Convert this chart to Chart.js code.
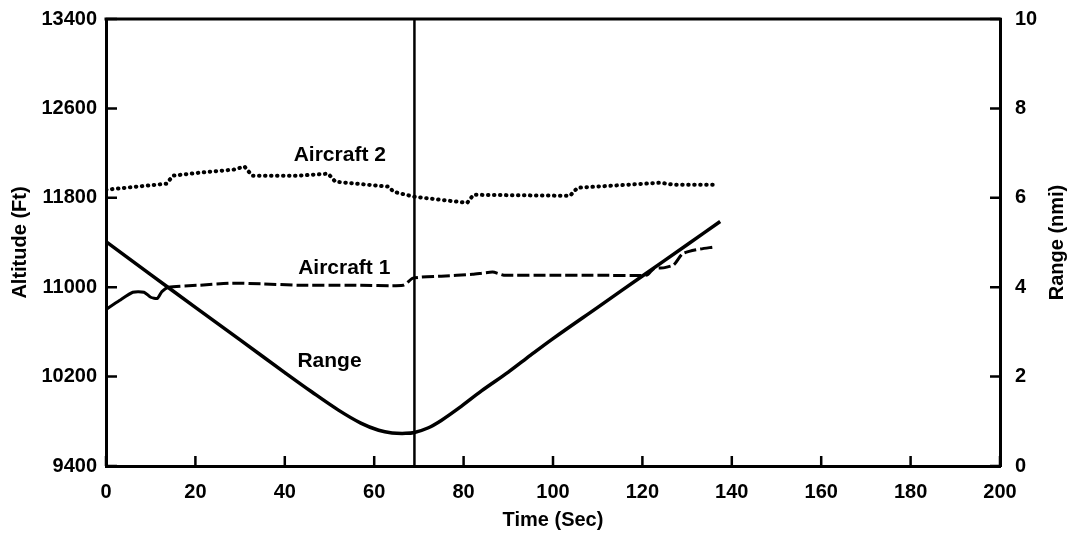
<!DOCTYPE html>
<html>
<head>
<meta charset="utf-8">
<script src="https://cdn.jsdelivr.net/npm/chart.js@4/dist/chart.umd.min.js"></script>
<style>
  html, body { margin: 0; padding: 0; background: #fff; }
  #wrap { width: 1072px; height: 535px; }
</style>
</head>
<body>
<div id="wrap"><canvas id="altChart" width="1072" height="535"></canvas></div>
<script>
// values
const a1Time = [0, 3, 6, 8.5, 10, 11.5, 12.5, 14, 21, 28, 35, 43, 55, 66.5, 68.7, 75, 82, 86.5, 89, 100, 110, 121, 122.5, 125, 127, 129, 132, 136];
const a1Alt = [10800, 10880, 10955, 10955, 10910, 10900, 10960, 11000, 11018, 11036, 11030, 11018, 11018, 11018, 11081, 11099, 11115, 11135, 11108, 11108, 11108, 11108, 11165, 11175, 11200, 11300, 11335, 11360];

const a2Time = [0, 13.5, 15, 21, 28.5, 31, 32.7, 43, 49.7, 51.3, 63.3, 64.3, 69, 80.8, 82.2, 103.8, 105.5, 113, 124, 127, 136];
const a2Alt = [11872, 11926, 11998, 12025, 12052, 12079, 11998, 11998, 12016, 11944, 11899, 11854, 11809, 11755, 11827, 11818, 11890, 11908, 11935, 11917, 11917];

const rangeTime = [0, 10, 20, 30, 40, 46, 52, 57, 61, 64, 67, 69, 72, 75, 79, 84, 90, 95, 100, 110, 120, 130, 137.4];
const rangeNmi = [5.02, 4.28, 3.55, 2.82, 2.09, 1.66, 1.25, 0.96, 0.8, 0.74, 0.73, 0.75, 0.85, 1.02, 1.3, 1.68, 2.1, 2.48, 2.85, 3.55, 4.25, 4.95, 5.47];

const markerTime = 69;

const altTicks = [9400, 10200, 11000, 11800, 12600, 13400];
const rangeTicks = [0, 2, 4, 6, 8, 10];
const timeTicks = [0, 20, 40, 60, 80, 100, 120, 140, 160, 180, 200];

// curve labels inside the plot
const labelText = ['Aircraft 2', 'Aircraft 1', 'Range'];
const labelTime = [52.3, 53.3, 50];
const labelValue = [12178, 11171, 2.34];
const labelAxis = ['y', 'y', 'y2'];

const toPoints = (xs, ys) => xs.map((x, i) => ({ x: x, y: ys[i] }));

const FONT = '"Liberation Sans", Arial, sans-serif';

// frame on top, small inward tick marks, curve labels, right title
const frameTicks = {
  id: 'frameTicks',
  afterDatasetsDraw(chart) {
    const { ctx, chartArea: a, scales } = chart;
    ctx.save();
    ctx.strokeStyle = '#000';
    ctx.lineWidth = 3;
    ctx.beginPath();
    ctx.moveTo(a.left - 1.5, a.top);
    ctx.lineTo(a.right + 1.5, a.top);
    ctx.stroke();

    ctx.lineWidth = 2.5;
    ctx.beginPath();
    timeTicks.forEach(v => {
      const px = scales.x.getPixelForValue(v);
      ctx.moveTo(px, a.bottom);
      ctx.lineTo(px, a.bottom - 10);
    });
    altTicks.forEach(v => {
      const py = scales.y.getPixelForValue(v);
      ctx.moveTo(a.left, py);
      ctx.lineTo(a.left + 11, py);
    });
    rangeTicks.forEach(v => {
      const py = scales.y2.getPixelForValue(v);
      ctx.moveTo(a.right, py);
      ctx.lineTo(a.right - 10, py);
    });
    ctx.stroke();

    ctx.fillStyle = '#000';
    ctx.font = 'bold 21px ' + FONT;
    ctx.textAlign = 'center';
    ctx.textBaseline = 'middle';
    labelText.forEach((t, i) => {
      const px = scales.x.getPixelForValue(labelTime[i]);
      const py = scales[labelAxis[i]].getPixelForValue(labelValue[i]);
      ctx.fillText(t, px, py);
    });

    // right axis title reads bottom-to-top like the left one
    ctx.font = 'bold 20px ' + FONT;
    ctx.translate(scales.y2.right - 15, (a.top + a.bottom) / 2);
    ctx.rotate(-Math.PI / 2);
    ctx.fillText('Range (nmi)', 0, 0);
    ctx.restore();
  }
};

const tickFont = { family: FONT, size: 20, weight: 'bold' };
const titleFont = { family: FONT, size: 20, weight: 'bold' };
const plain = v => String(v);

const ctx = document.getElementById('altChart').getContext('2d');
new Chart(ctx, {
  type: 'line',
  data: {
    datasets: [
      {
        label: 'Range',
        data: toPoints(rangeTime, rangeNmi),
        yAxisID: 'y2',
        borderColor: '#000',
        borderWidth: 3.5,
        pointRadius: 0,
        tension: 0.35
      },
      {
        label: 'Aircraft 1',
        data: toPoints(a1Time, a1Alt),
        yAxisID: 'y',
        borderColor: '#000',
        borderWidth: 3,
        borderDash: [12, 4],
        pointRadius: 0,
        tension: 0.2,
        segment: {
          borderDash: c => (c.p1.parsed.x <= 14 ? [] : undefined)
        }
      },
      {
        label: 'Aircraft 2',
        data: toPoints(a2Time, a2Alt),
        yAxisID: 'y',
        borderColor: '#000',
        borderWidth: 4,
        borderDash: [0.5, 5.5],
        borderCapStyle: 'round',
        pointRadius: 0,
        tension: 0
      },
      {
        label: 'marker',
        data: toPoints([markerTime, markerTime], [altTicks[0], altTicks[altTicks.length - 1]]),
        yAxisID: 'y',
        borderColor: '#000',
        borderWidth: 2.5,
        pointRadius: 0
      }
    ]
  },
  options: {
    responsive: false,
    animation: false,
    layout: { padding: { top: 18, left: 0, right: 0, bottom: 0 } },
    plugins: {
      legend: { display: false },
      tooltip: { enabled: false }
    },
    scales: {
      x: {
        type: 'linear',
        min: 0,
        max: 200,
        afterFit: s => { s.height = 69; },
        ticks: { stepSize: 20, color: '#000', font: tickFont, padding: 6, maxRotation: 0, callback: plain },
        grid: { display: false },
        border: { display: true, color: '#000', width: 3 },
        title: { display: true, text: 'Time (Sec)', color: '#000', font: titleFont, padding: { top: 0, bottom: 3 } }
      },
      y: {
        position: 'left',
        min: 9400,
        max: 13400,
        afterFit: s => { s.width = 106; },
        ticks: { stepSize: 800, color: '#000', font: tickFont, padding: 1, callback: plain },
        grid: { display: false },
        border: { display: true, color: '#000', width: 3 },
        title: { display: true, text: 'Altitude (Ft)', color: '#000', font: titleFont, padding: { top: 8, bottom: 0 } }
      },
      y2: {
        position: 'right',
        min: 0,
        max: 10,
        afterFit: s => { s.width = 72; },
        ticks: { stepSize: 2, color: '#000', font: tickFont, padding: 7, callback: plain },
        grid: { display: false },
        border: { display: true, color: '#000', width: 3 },
        title: { display: false }
      }
    }
  },
  plugins: [frameTicks]
});
</script>
</body>
</html>
